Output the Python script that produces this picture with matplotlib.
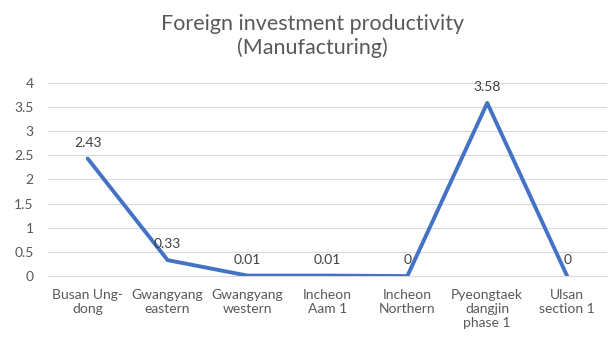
import matplotlib
matplotlib.use("Agg")
import matplotlib.pyplot as plt

categories = ["Busan Ung-\ndong", "Gwangyang\neastern", "Gwangyang\nwestern", "Incheon\nAam 1",
              "Incheon\nNorthern", "Pyeongtaek\ndangjin\nphase 1", "Ulsan\nsection 1"]
values = [2.43, 0.33, 0.01, 0.01, 0, 3.58, 0]
labels = ["2.43", "0.33", "0.01", "0.01", "0", "3.58", "0"]
yticks = [0, 0.5, 1, 1.5, 2, 2.5, 3, 3.5, 4]

plt.rcParams['font.family'] = ['Lato', 'DejaVu Sans']

fig = plt.figure(figsize=(6.12, 3.4), dpi=100)
ax = fig.add_axes([0.078, 0.188, 0.914, 0.569])
x = list(range(len(categories)))
ax.plot(x, values, color="#4472C4", lw=2.8, solid_capstyle="round", zorder=3)
for xi, v, lab in zip(x, values, labels):
    ax.annotate(lab, (xi, v), xytext=(0, 7), textcoords="offset points",
                ha="center", va="bottom", fontsize=10, color="#404040")
ax.set_xlim(-0.5, len(categories) - 0.5)
ax.set_ylim(0, 4)
ax.set_yticks(yticks)
ax.set_yticklabels([f"{t:g}" for t in yticks])
ax.set_xticks(x)
ax.set_xticklabels(categories, fontsize=10, color="#595959", linespacing=1.2)
ax.tick_params(axis="y", labelsize=10, labelcolor="#595959", length=0, pad=10)
ax.tick_params(axis="x", length=0, pad=9)
ax.grid(axis="y", color="#D9D9D9", lw=0.8)
ax.set_axisbelow(True)
for s in ax.spines.values():
    s.set_visible(False)
ax.spines["bottom"].set_visible(True)
ax.spines["bottom"].set_color("#D9D9D9")
fig.text(0.51, 0.894, "Foreign investment productivity\n(Manufacturing)", ha="center", va="center",
         fontsize=15.5, color="#595959", linespacing=1.25)
fig.savefig("out.png", dpi=100)
